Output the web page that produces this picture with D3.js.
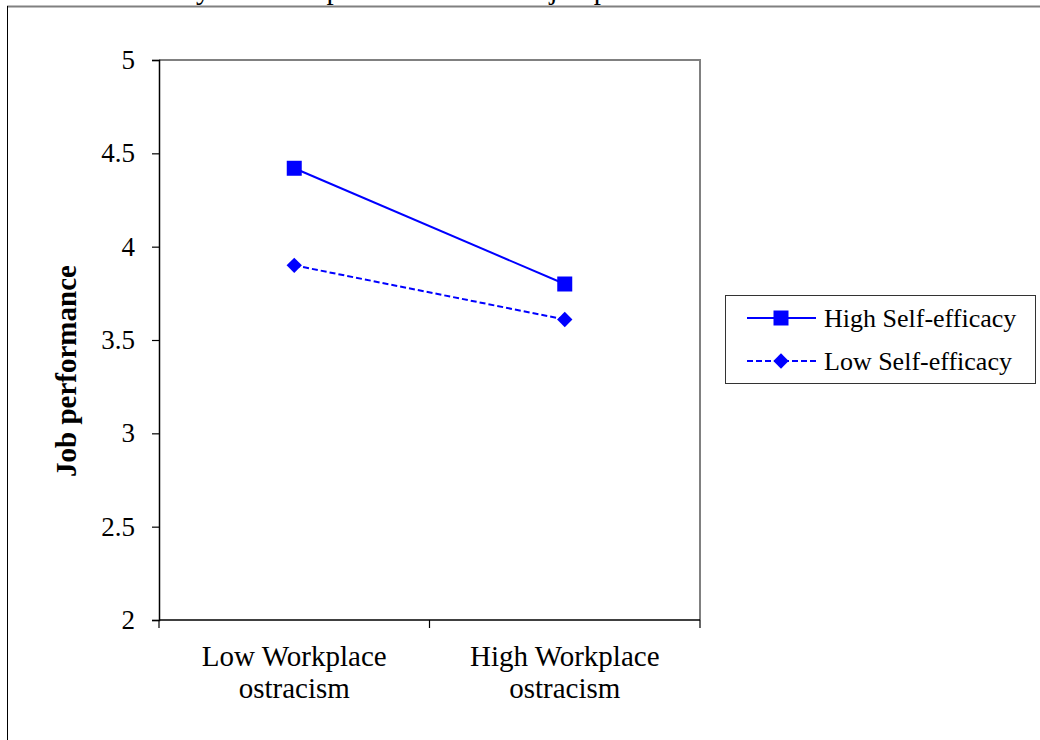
<!DOCTYPE html>
<html>
<head>
<meta charset="utf-8">
<script src="https://cdn.jsdelivr.net/npm/d3@7"></script>
<style>
  html, body { margin: 0; padding: 0; background: #fff; }
  svg { display: block; }
  text { font-family: "Liberation Serif", "Times New Roman", serif; fill: #000; }
</style>
</head>
<body>
<svg id="chart" width="1040" height="740"></svg>
<script>
const titleText = "Interaction effect of self-efficacy and workplace ostracism on job performance";
const categories = ["Low Workplace|ostracism", "High Workplace|ostracism"];
const seriesNames = ["High Self-efficacy", "Low Self-efficacy"];
const highSelfEfficacy = [4.42, 3.80];
const lowSelfEfficacy = [3.90, 3.61];
const yTicks = [2, 2.5, 3, 3.5, 4, 4.5, 5];
const yTitle = "Job performance";

const series = [
  { name: seriesNames[0], values: highSelfEfficacy, marker: "square", dash: null },
  { name: seriesNames[1], values: lowSelfEfficacy, marker: "diamond", dash: "6,3" }
];

const svg = d3.select("#chart");
const blue = "#0000ff";

// Title line, cut off by the top edge as in the source image
const title = svg.append("text")
  .attr("x", 0)
  .attr("y", -1)
  .attr("font-size", 29)
  .text(titleText);
{
  const node = title.node();
  const idx = titleText.indexOf("efficacy") + 7;
  const off = node.getSubStringLength(0, idx);
  title.attr("x", 196 - off);
}

// Outer frame lines
svg.append("line").attr("x1", 7).attr("x2", 1040).attr("y1", 6.5).attr("y2", 6.5)
  .attr("stroke", "#808080").attr("stroke-width", 2);
svg.append("line").attr("x1", 7.5).attr("x2", 7.5).attr("y1", 6).attr("y2", 740)
  .attr("stroke", "#000").attr("stroke-width", 1);

const plot = { left: 159, right: 700, top: 60, bottom: 620 };

const x = d3.scaleBand().domain(categories).range([plot.left, plot.right]).padding(0);
const y = d3.scaleLinear().domain([2, 5]).range([plot.bottom, plot.top]);

// Plot area top/right border (gray)
svg.append("path")
  .attr("d", `M${plot.left},${plot.top}H${plot.right}V${plot.bottom}`)
  .attr("fill", "none").attr("stroke", "#808080").attr("stroke-width", 2);

// Y axis
const yAxis = svg.append("g")
  .attr("transform", `translate(${plot.left},0)`)
  .call(d3.axisLeft(y).tickValues(yTicks).tickSize(7).tickPadding(17).tickFormat(d3.format("")));
yAxis.select(".domain").attr("stroke", "#000").attr("stroke-width", 1.5);
yAxis.selectAll(".tick line").attr("stroke", "#000").attr("stroke-width", 1.2);
yAxis.selectAll(".tick text").attr("font-size", 27)
  .attr("font-family", "Liberation Serif, Times New Roman, serif").attr("fill", "#000");

// X axis (ticks at band edges)
const xg = svg.append("g");
xg.append("line").attr("x1", plot.left).attr("x2", plot.right)
  .attr("y1", plot.bottom).attr("y2", plot.bottom)
  .attr("stroke", "#000").attr("stroke-width", 1.5);
const edges = categories.map(c => x(c)).concat([x(categories[categories.length - 1]) + x.bandwidth()]);
xg.selectAll("line.xt").data(edges).enter().append("line").attr("class", "xt")
  .attr("x1", d => d).attr("x2", d => d)
  .attr("y1", plot.bottom).attr("y2", plot.bottom + 8)
  .attr("stroke", "#000").attr("stroke-width", 1.2);
const xl = xg.selectAll("text.xl").data(categories).enter().append("text").attr("class", "xl")
  .attr("text-anchor", "middle")
  .attr("font-size", 29)
  .attr("x", d => x(d) + x.bandwidth() / 2)
  .attr("y", 666);
xl.each(function(d) {
  const parts = d.split("|");
  const t = d3.select(this);
  parts.forEach((p, i) => {
    t.append("tspan").attr("x", x(d) + x.bandwidth() / 2).attr("dy", i === 0 ? 0 : 32).text(p);
  });
});

// Y title
svg.append("text")
  .attr("transform", "translate(76,371) rotate(-90)")
  .attr("text-anchor", "middle")
  .attr("font-size", 29)
  .attr("font-weight", "bold")
  .text(yTitle);

// Marker symbols
const sq = d3.symbol().type(d3.symbolSquare).size(225);
const dm = d3.symbol().type(d3.symbolDiamond2).size(150);
function markerPath(m) { return m === "square" ? sq() : dm(); }

const line = d3.line()
  .x((d, i) => x(categories[i]) + x.bandwidth() / 2)
  .y(d => y(d));

series.forEach(s => {
  svg.append("path")
    .attr("d", line(s.values))
    .attr("fill", "none")
    .attr("stroke", blue)
    .attr("stroke-width", 2)
    .attr("stroke-dasharray", s.dash);
  svg.selectAll(null).data(s.values).enter().append("path")
    .attr("d", markerPath(s.marker))
    .attr("transform", (d, i) => `translate(${x(categories[i]) + x.bandwidth() / 2},${y(d)})`)
    .attr("fill", blue);
});

// Legend
const lg = svg.append("g");
lg.append("rect").attr("x", 725.5).attr("y", 295.5).attr("width", 310).attr("height", 88)
  .attr("fill", "#fff").attr("stroke", "#333").attr("stroke-width", 1);
const rowsY = [318, 361];
series.forEach((s, i) => {
  lg.append("line").attr("x1", 747).attr("x2", 816).attr("y1", rowsY[i]).attr("y2", rowsY[i])
    .attr("stroke", blue).attr("stroke-width", 2).attr("stroke-dasharray", s.dash);
  lg.append("path").attr("d", markerPath(s.marker))
    .attr("transform", `translate(781,${rowsY[i]})`).attr("fill", blue);
  lg.append("text").attr("x", 824).attr("y", rowsY[i] + 9).attr("font-size", 26).text(s.name);
});
</script>
</body>
</html>
